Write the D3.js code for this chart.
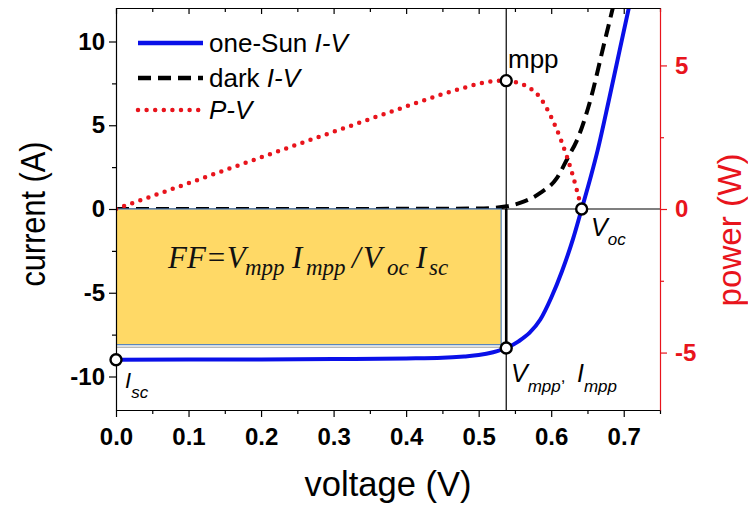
<!DOCTYPE html>
<html>
<head>
<meta charset="utf-8">
<script src="https://cdn.jsdelivr.net/npm/d3@7"></script>
<style>
  body { margin: 0; background: #fff; }
  svg  { display: block; font-family: "Liberation Sans", Arial, sans-serif; }
</style>
</head>
<body>
<script>
// one-Sun I-V curve (V, A)
const sunV = [0, 0.10, 0.20, 0.30, 0.40, 0.45, 0.48, 0.50, 0.52, 0.538, 0.555, 0.57, 0.585, 0.60, 0.615, 0.63, 0.642, 0.655, 0.664, 0.68, 0.695, 0.71];
const sunI = [-9.00, -8.99, -8.98, -8.96, -8.92, -8.88, -8.80, -8.72, -8.55, -8.30, -7.90, -7.40, -6.60, -5.30, -3.70, -1.80, 0, 2.0, 3.5, 6.6, 9.6, 12.6];

// dark I-V curve (V, A)
const darkV = [0, 0.20, 0.40, 0.50, 0.539, 0.557, 0.585, 0.608, 0.624, 0.635, 0.654, 0.672, 0.69];
const darkI = [0, 0, 0.01, 0.03, 0.16, 0.36, 0.96, 1.86, 3.15, 4.05, 6.5, 9.7, 12.9];

// P-V curve (V, W)
const pvV = [0, 0.10, 0.20, 0.30, 0.40, 0.45, 0.48, 0.50, 0.52, 0.538, 0.555, 0.57, 0.585, 0.60, 0.615, 0.63, 0.642];
const pvP = [0, 0.90, 1.80, 2.69, 3.57, 4.00, 4.22, 4.36, 4.45, 4.47, 4.39, 4.22, 3.87, 3.20, 2.30, 1.15, 0];

// special points
const isc = -9.0, voc = 0.642, vmpp = 0.538, impp = -8.3, pmpp = 4.47;

// ticks
const xTicks  = [0, 0.1, 0.2, 0.3, 0.4, 0.5, 0.6, 0.7];
const xMinor  = [0.05, 0.15, 0.25, 0.35, 0.45, 0.55, 0.65, 0.75];
const iTicks  = [-10, -5, 0, 5, 10];
const iMinor  = [-7.5, -2.5, 2.5, 7.5];
const pTicks  = [-5, 0, 5];
const pMinor  = [-2.5, 2.5];

const width = 748, height = 509;
const blue = '#0a10e8', red = '#e8141c';

const x  = d3.scaleLinear([0, 0.75], [116, 660]);
const yI = d3.scaleLinear([-12, 12], [410, 8]);
const yP = d3.scaleLinear([-7, 7], [410, 8]);

const svg = d3.select('body').append('svg')
  .attr('width', width)
  .attr('height', height);

svg.append('clipPath').attr('id', 'plot')
  .append('rect')
  .attr('x', x(0)).attr('y', yI(12))
  .attr('width', x(0.75) - x(0)).attr('height', yI(-12) - yI(12));

const pts = (xs, ys) => xs.map((v, i) => [v, ys[i]]);
const lineI = d3.line().x(d => x(d[0])).y(d => yI(d[1])).curve(d3.curveMonotoneX);
const lineP = d3.line().x(d => x(d[0])).y(d => yP(d[1])).curve(d3.curveMonotoneX);

const plot = svg.append('g').attr('clip-path', 'url(#plot)');

// dark I-V
plot.append('path')
  .datum(pts(darkV, darkI))
  .attr('d', lineI)
  .attr('fill', 'none')
  .attr('stroke', '#000')
  .attr('stroke-width', 4)
  .attr('stroke-dasharray', '13 7');

// zero line and vmpp line
plot.append('line')
  .attr('x1', x(0)).attr('x2', x(0.75))
  .attr('y1', yI(0)).attr('y2', yI(0))
  .attr('stroke', '#000').attr('stroke-width', 1.2);
plot.append('line')
  .attr('x1', x(vmpp)).attr('x2', x(vmpp))
  .attr('y1', yI(12)).attr('y2', yI(-12))
  .attr('stroke', '#000').attr('stroke-width', 1.2);

// FF rectangle
plot.append('rect')
  .attr('x', x(0))
  .attr('y', yI(0))
  .attr('width', x(vmpp - 0.007) - x(0))
  .attr('height', yI(impp + 0.2) - yI(0))
  .attr('fill', '#ffd966')
  .attr('stroke', '#4f7fbf')
  .attr('stroke-width', 1.2);
plot.append('line')
  .attr('x1', x(0)).attr('x2', x(vmpp - 0.007))
  .attr('y1', yI(impp + 0.05)).attr('y2', yI(impp + 0.05))
  .attr('stroke', '#9a9a9a').attr('stroke-width', 1);
plot.append('line')
  .attr('x1', x(vmpp)).attr('x2', x(vmpp))
  .attr('y1', yI(0)).attr('y2', yI(impp))
  .attr('stroke', '#000').attr('stroke-width', 2.6);

// one-Sun I-V
plot.append('path')
  .datum(pts(sunV, sunI))
  .attr('d', lineI)
  .attr('fill', 'none')
  .attr('stroke', blue)
  .attr('stroke-width', 4);

// P-V
plot.append('path')
  .datum(pts(pvV, pvP))
  .attr('d', lineP)
  .attr('fill', 'none')
  .attr('stroke', red)
  .attr('stroke-width', 4.5)
  .attr('stroke-linecap', 'round')
  .attr('stroke-dasharray', '0 8.6');

// axes
const fmt = d => String(d);
const styleAxis = (g, size) => {
  g.selectAll('text').attr('font-size', size).attr('font-weight', 'bold')
    .attr('font-family', '"Liberation Sans", Arial, sans-serif');
  g.selectAll('line').attr('stroke-width', 1.2);
  g.select('.domain').attr('stroke-width', 1.2);
};

const gx = svg.append('g').attr('transform', `translate(0,${yI(-12)})`)
  .call(d3.axisBottom(x).tickValues(xTicks).tickFormat(d3.format('.1f')).tickSize(7).tickSizeOuter(0).tickPadding(11));
styleAxis(gx, 24);
svg.append('g').attr('transform', `translate(0,${yI(-12)})`)
  .call(d3.axisBottom(x).tickValues(xMinor).tickFormat('').tickSize(4).tickSizeOuter(0))
  .call(g => g.select('.domain').remove())
  .selectAll('line').attr('stroke-width', 1.2);

const gt = svg.append('g').attr('transform', `translate(0,${yI(12)})`)
  .call(d3.axisTop(x).tickValues(xTicks).tickFormat('').tickSize(-6).tickSizeOuter(0));
styleAxis(gt, 24);
svg.append('g').attr('transform', `translate(0,${yI(12)})`)
  .call(d3.axisTop(x).tickValues(xMinor).tickFormat('').tickSize(-4).tickSizeOuter(0))
  .call(g => g.select('.domain').remove())
  .selectAll('line').attr('stroke-width', 1.2);

const gy = svg.append('g').attr('transform', `translate(${x(0)},0)`)
  .call(d3.axisLeft(yI).tickValues(iTicks).tickFormat(fmt).tickSize(7).tickSizeOuter(0).tickPadding(4));
styleAxis(gy, 24);
svg.append('g').attr('transform', `translate(${x(0)},0)`)
  .call(d3.axisLeft(yI).tickValues(iMinor).tickFormat('').tickSize(4).tickSizeOuter(0))
  .call(g => g.select('.domain').remove())
  .selectAll('line').attr('stroke-width', 1.2);

const gp = svg.append('g').attr('transform', `translate(${x(0.75)},0)`)
  .call(d3.axisRight(yP).tickValues(pTicks).tickFormat(fmt).tickSize(7).tickSizeOuter(0).tickPadding(8));
styleAxis(gp, 24);
gp.selectAll('line, .domain').attr('stroke', red);
gp.selectAll('text').attr('fill', red);
svg.append('g').attr('transform', `translate(${x(0.75)},0)`)
  .call(d3.axisRight(yP).tickValues(pMinor).tickFormat('').tickSize(4).tickSizeOuter(0))
  .call(g => g.select('.domain').remove())
  .selectAll('line').attr('stroke', red).attr('stroke-width', 1.2);

// axis titles
svg.append('text')
  .attr('x', (x(0) + x(0.75)) / 2).attr('y', 496)
  .attr('text-anchor', 'middle')
  .attr('font-size', 35)
  .attr('textLength', 167).attr('lengthAdjust', 'spacingAndGlyphs')
  .text('voltage (V)');
svg.append('text')
  .attr('transform', 'translate(45,214) rotate(-90)')
  .attr('text-anchor', 'middle')
  .attr('font-size', 35)
  .attr('textLength', 145).attr('lengthAdjust', 'spacingAndGlyphs')
  .text('current (A)');
svg.append('text')
  .attr('transform', 'translate(741,230) rotate(-90)')
  .attr('text-anchor', 'middle')
  .attr('font-size', 34)
  .attr('fill', red)
  .attr('textLength', 153).attr('lengthAdjust', 'spacingAndGlyphs')
  .text('power (W)');

// legend
const legend = [
  { y: 43, label: 'one-Sun ', it: 'I-V', stroke: blue, dash: null, cap: 'butt', w: 4.5 },
  { y: 78, label: 'dark ', it: 'I-V', stroke: '#000', dash: '13 7', cap: 'butt', w: 4.5 },
  { y: 110, label: '', it: 'P-V', stroke: red, dash: '0 8.6', cap: 'round', w: 4.5 }
];
const lg = svg.append('g');
legend.forEach(d => {
  lg.append('line')
    .attr('x1', 138).attr('x2', 203).attr('y1', d.y).attr('y2', d.y)
    .attr('stroke', d.stroke).attr('stroke-width', d.w)
    .attr('stroke-linecap', d.cap)
    .attr('stroke-dasharray', d.dash);
  const t = lg.append('text').attr('x', 209).attr('y', d.y + 9).attr('font-size', 26);
  t.append('tspan').text(d.label);
  t.append('tspan').attr('font-style', 'italic').text(d.it);
});

// special points
const marks = [[0, isc, yI], [voc, 0, yI], [vmpp, impp, yI], [vmpp, pmpp, yP]];
svg.append('g').selectAll('circle')
  .data(marks)
  .join('circle')
  .attr('cx', d => x(d[0]))
  .attr('cy', d => d[2](d[1]))
  .attr('r', 5.5)
  .attr('fill', '#fff')
  .attr('stroke', '#000')
  .attr('stroke-width', 2.4);

// annotations
svg.append('text').attr('x', 508).attr('y', 68).attr('font-size', 26).text('mpp');

const sub = (g, px, py, main, s, mainSize, subSize, subDy) => {
  const t = g.append('text').attr('x', px).attr('y', py).attr('font-style', 'italic');
  t.append('tspan').attr('font-size', mainSize).text(main);
  t.append('tspan').attr('font-size', subSize).attr('dy', subDy).text(s);
  return t;
};
const ann = svg.append('g');
sub(ann, 591, 236, 'V', 'oc', 25, 17, 9);
sub(ann, 511, 382, 'V', 'mpp', 25, 17, 10).append('tspan').attr('font-size', 17).attr('dy', -10).attr('font-style', 'normal').text(',');
sub(ann, 577, 382, 'I', 'mpp', 25, 17, 10);
sub(ann, 125, 388, 'I', 'sc', 22, 17, 10);

// FF formula
const ff = svg.append('g')
  .attr('font-family', '"Liberation Serif", "Times New Roman", serif')
  .attr('font-style', 'italic')
  .attr('fill', '#111');
const ffParts = [
  { t: 'FF=V', px: 168, big: true },
  { t: 'mpp', px: 245, big: false },
  { t: 'I', px: 292, big: true },
  { t: 'mpp', px: 306, big: false },
  { t: '/', px: 352, big: true },
  { t: 'V', px: 363, big: true },
  { t: 'oc', px: 387, big: false },
  { t: 'I', px: 416, big: true },
  { t: 'sc', px: 429, big: false }
];
ffParts.forEach(p => {
  ff.append('text')
    .attr('x', p.px)
    .attr('y', p.big ? 268 : 275)
    .attr('font-size', p.big ? 31 : 23)
    .text(p.t);
});
</script>
</body>
</html>
